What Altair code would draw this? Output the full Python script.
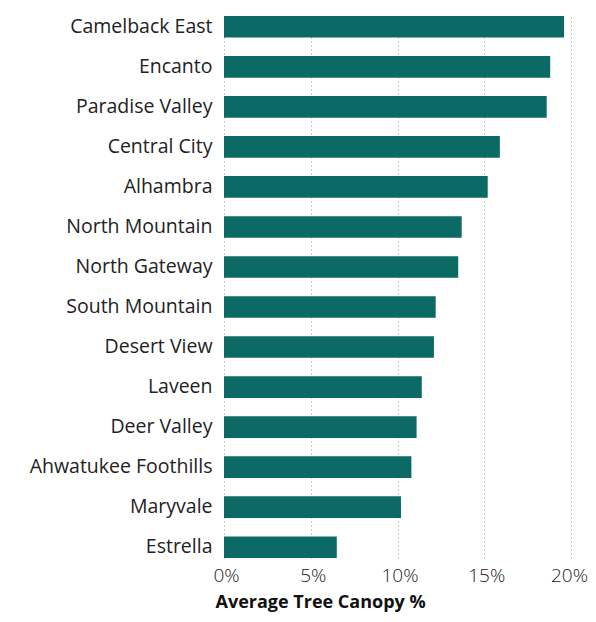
import altair as alt
import pandas as pd

districts = ["Camelback East", "Encanto", "Paradise Valley", "Central City", "Alhambra",
             "North Mountain", "North Gateway", "South Mountain", "Desert View", "Laveen",
             "Deer Valley", "Ahwatukee Foothills", "Maryvale", "Estrella"]
canopy = [19.6, 18.8, 18.6, 15.9, 15.2, 13.7, 13.5, 12.2, 12.1, 11.4, 11.1, 10.8, 10.2, 6.5]
x_ticks = [0, 5, 10, 15, 20]

df = pd.DataFrame({"district": districts, "canopy": canopy})

chart = alt.Chart(df).mark_bar(color="#0b6a66").encode(
    x=alt.X("canopy:Q",
            scale=alt.Scale(domain=[0, 20], nice=False),
            axis=alt.Axis(values=x_ticks, labelExpr="datum.value + '%'",
                          title="Average Tree Canopy %",
                          titleFont="Open Sans", titleFontSize=18, titleFontWeight="bold",
                          titleColor="#111", titleAnchor="start", titleAlign="left",
                          titleX=-9, titleY=49, titleBaseline="alphabetic",
                          labelFont="Open Sans", labelFontSize=19, labelFontWeight=300,
                          labelColor="#222", labelPadding=8,
                          labelOffset={"condition": {"test": "datum.value == 20", "value": -2},
                                       "value": 2},
                          labelFlush=False,
                          domain=False, ticks=False,
                          grid=True, gridColor="#999", gridDash=[1, 3], gridWidth=1)),
    y=alt.Y("district:N", sort=districts,
            scale=alt.Scale(paddingInner=0.46, paddingOuter=0),
            axis=alt.Axis(title=None, labelFont="Open Sans", labelFontSize=19.5,
                          labelColor="#222", labelPadding=12, labelLimit=400,
                          domain=False, ticks=False, grid=False)),
).properties(
    width=347, height=542,
    autosize=alt.AutoSizeParams(type="none"),
    padding={"left": 216, "top": 8, "right": 17, "bottom": 56},
).configure_view(stroke=None)

chart.save("out.html", embed_options={"renderer": "svg", "actions": False})
